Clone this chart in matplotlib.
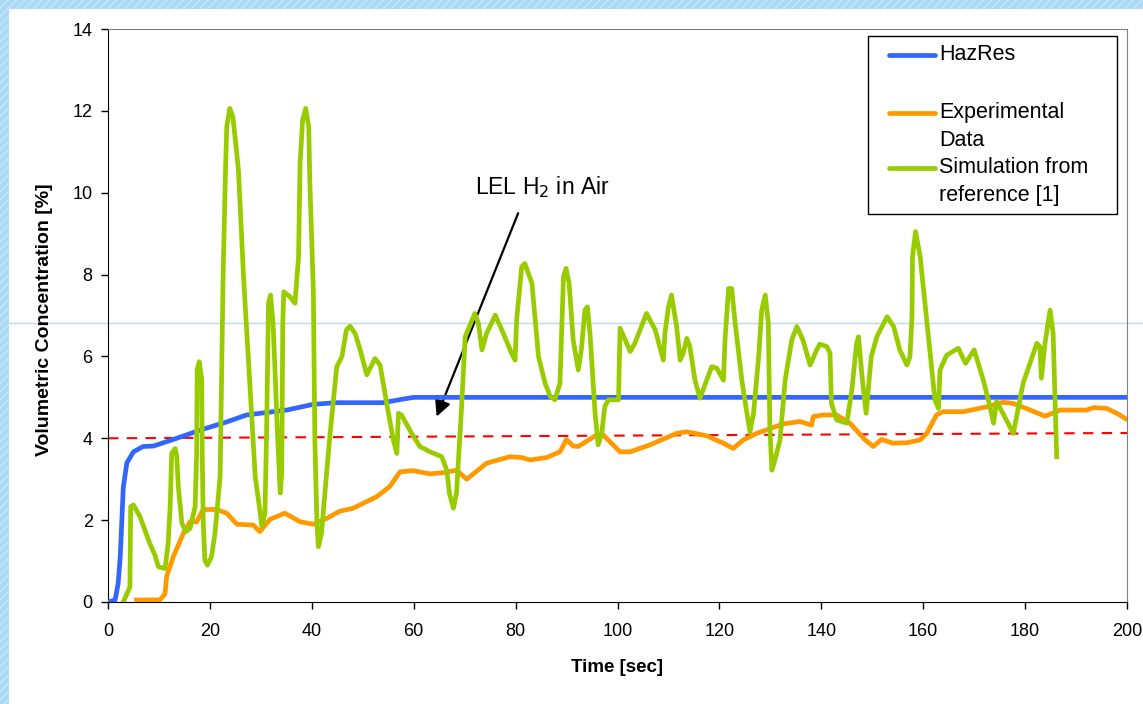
import matplotlib
matplotlib.use("Agg")
import matplotlib.pyplot as plt
from matplotlib.patches import Rectangle
from matplotlib.lines import Line2D

plt.rcParams['font.family'] = ['Liberation Sans', 'DejaVu Sans']

# ---- data ----
hazres_t = [0, 1.4, 2.0, 2.4, 3.0, 3.7, 5.0, 6.9, 8.9, 13.5, 18.1, 23.3, 27.2,
            35.1, 40.3, 44.8, 54.0, 58.0, 60, 200]
hazres_v = [0, 0.05, 0.46, 1.1, 2.8, 3.4, 3.67, 3.8, 3.81, 4.0, 4.2, 4.4, 4.57,
            4.69, 4.83, 4.87, 4.87, 4.96, 5.0, 5.0]

exp_t = [5.6, 10.2, 11.2, 11.5, 12.8, 14.8, 16.1, 17.4, 18.7, 21.3, 23.3, 25.3,
         28.5, 29.8, 31.8, 34.7, 37.7, 40.3, 42.9, 45.5, 48.1, 52.7, 55.3, 57.3,
         59.9, 63.2, 65.8, 68.4, 70.4, 74.3, 78.9, 81.2, 82.8, 86.1, 88.7, 90.0,
         91.3, 92.3, 95.9, 97.2, 100.5, 102.5, 106.4, 111.6, 113.6, 117.5, 120.8,
         122.7, 124.7, 127.3, 132.5, 135.8, 138.1, 138.4, 140.4, 143.0, 145.6,
         148.6, 150.2, 151.8, 154.1, 156.8, 159.4, 160.7, 162.6, 163.9, 167.9,
         172.5, 175.7, 177.7, 181.0, 183.9, 186.9, 192.1, 193.4, 196.0, 198.0, 200]
exp_v = [0.05, 0.05, 0.2, 0.62, 1.1, 1.68, 1.96, 1.96, 2.26, 2.26, 2.17, 1.9,
         1.88, 1.72, 2.02, 2.17, 1.96, 1.9, 2.04, 2.22, 2.29, 2.57, 2.82, 3.18,
         3.21, 3.13, 3.16, 3.22, 3.0, 3.39, 3.55, 3.53, 3.47, 3.53, 3.67, 3.97,
         3.81, 3.8, 4.08, 4.08, 3.67, 3.67, 3.84, 4.12, 4.16, 4.06, 3.88,
         3.75, 3.96, 4.12, 4.35, 4.41, 4.32, 4.53, 4.57, 4.57, 4.37,
         3.96, 3.8, 3.97, 3.88, 3.89, 3.96, 4.12, 4.57, 4.65, 4.65,
         4.77, 4.88, 4.85, 4.69, 4.54, 4.69, 4.69, 4.75, 4.73, 4.61, 4.46]

sim_t = [3.0, 4.3, 4.45, 5.0, 6.3, 8.2, 9.2, 9.9, 11.2, 11.8, 12.2, 12.5, 13.2,
         13.5, 13.8, 14.5, 15.3, 16.1, 17.1, 17.4, 17.5, 17.9, 18.4, 18.5, 18.7,
         19.0, 19.5, 20.3, 21.0, 22.0, 22.6, 23.0, 23.3, 23.9, 24.5, 25.0, 25.6,
         26.6, 27.9, 28.9, 29.8, 30.2, 30.8, 31.1, 31.5, 31.9, 32.4, 32.8, 33.2,
         33.8, 34.1, 34.3, 34.5, 35.7, 36.7, 37.4, 37.7, 38.2, 38.8, 39.4, 39.6,
         40.3, 40.6, 41.0, 41.3, 41.9, 42.9, 43.6, 44.9, 45.9, 46.8, 47.5, 48.5,
         49.5, 50.8, 52.4, 53.4, 54.7, 56.0, 56.7, 57.0, 57.6, 59.6, 61.2, 63.2,
         65.5, 66.5, 67.0, 67.8, 68.4, 69.4, 70.1, 72.0, 72.7, 73.4, 74.3, 76.0,
         77.6, 79.2, 79.9, 80.2, 81.2, 81.8, 83.2, 84.5, 85.8, 86.8, 87.7, 88.7,
         89.4, 89.9, 90.5, 91.3, 92.3, 92.9, 93.6, 94.1, 94.6, 95.6, 96.2, 96.9,
         97.5, 98.2, 100.2, 100.5, 102.5, 103.4, 105.7, 107.4, 109.0, 109.3,
         110.0, 110.6, 111.6, 112.3, 112.9, 113.6, 114.2, 115.2, 116.2, 117.5,
         118.5, 119.5, 120.8, 121.1, 121.8, 122.4, 123.1, 124.4, 125.4, 126.0,
         126.7, 127.7, 128.3, 129.0, 129.6, 129.9, 130.3, 130.9, 131.9, 132.9,
         134.2, 135.2, 136.4, 137.8, 139.1, 139.7, 141.1, 141.7, 142.0, 143.0,
         145.0, 146.0, 146.9, 147.3, 148.0, 148.8, 149.8, 150.9, 152.9, 154.2,
         155.4, 156.8, 157.4, 157.8, 157.9, 158.5, 159.4, 161.3, 162.3, 163.0,
         163.3, 164.6, 166.9, 168.3, 170.0, 170.9, 171.8, 173.1, 173.8, 174.4,
         177.7, 179.6, 182.3, 182.9, 183.2, 183.9, 184.9, 185.5, 186.2]
sim_v = [0, 0.37, 2.33, 2.37, 2.08, 1.43, 1.15, 0.86, 0.82, 1.43, 2.33, 3.63, 3.75,
         3.55, 2.82, 1.92, 1.72, 1.8, 2.33, 3.63, 5.67, 5.87, 5.42, 3.55, 1.92,
         1.03, 0.9, 1.1, 1.68, 3.06, 8.03, 10.23, 11.61, 12.06, 11.86, 11.29, 10.55,
         7.95, 5.18, 3.06, 2.25, 1.84, 2.17, 3.96, 7.3, 7.5, 6.81, 5.59, 4.28,
         2.66, 3.14, 6.81, 7.58, 7.46, 7.3, 8.44, 10.72, 11.78, 12.06, 11.61, 10.31,
         7.62, 3.96, 1.92, 1.35, 1.68, 3.14, 4.12, 5.75, 5.99, 6.65, 6.74, 6.56,
         6.16, 5.55, 5.95, 5.79, 4.85, 3.96, 3.63, 4.61, 4.57, 4.12, 3.8, 3.67,
         3.55, 3.22, 2.66, 2.29, 2.66, 4.77, 6.48, 7.05, 6.81, 6.16, 6.56, 7.01,
         6.56, 6.08, 5.91, 6.89, 8.19, 8.27, 7.79, 5.99, 5.34, 5.02, 4.94, 5.34,
         7.95, 8.15, 7.79, 6.4, 5.67, 6.16, 7.13, 7.21, 6.56, 4.61, 3.84, 4.12,
         4.77, 4.94, 4.94, 6.69, 6.12, 6.32, 7.05, 6.65, 5.91, 6.56,
         7.21, 7.5, 6.73, 5.91, 6.08, 6.44, 6.24, 5.42, 4.98, 5.42,
         5.75, 5.71, 5.42, 6.4, 7.66, 7.66, 6.81, 5.42, 4.61, 4.16,
         4.61, 5.99, 7.13, 7.5, 6.81, 4.28, 3.22, 3.47, 3.96, 5.42,
         6.4, 6.73, 6.4, 5.79, 6.16, 6.3, 6.24, 6.08, 4.85, 4.45,
         4.37, 5.18, 6.3, 6.48, 5.5, 4.61, 5.99, 6.48, 6.97, 6.73,
         6.16, 5.79, 5.99, 6.97, 8.44, 9.05, 8.44, 6.16, 4.94, 4.73,
         5.67, 6.03, 6.2, 5.83, 6.16, 5.79, 5.42, 4.77, 4.37, 4.9,
         4.12, 5.34, 6.32, 6.24, 5.47, 6.32, 7.13, 6.56, 3.55]

lel_t = [0, 200]
lel_v = [4.0, 4.13]

labels = ["HazRes", "Experimental\nData", "Simulation from\nreference [1]"]
colors = ["#3366ff", "#ff9900", "#99cc00"]

# ---- figure ----
fig = plt.figure(figsize=(11.43, 7.04), dpi=100)
fig.patch.set_facecolor("#a9d9f5")
fig.add_artist(Rectangle((0, 0), 1, 1, transform=fig.transFigure, facecolor="none",
                         edgecolor="#c6e7fa", hatch="////", lw=0, zorder=0))
fig.add_artist(Rectangle((9 / 1143, 0), 1, 1 - 9 / 704, transform=fig.transFigure,
                         facecolor="white", edgecolor="none", zorder=0.5))
# thin stray line across the slide
fig.add_artist(Line2D([9 / 1143, 1], [1 - 323 / 704] * 2, transform=fig.transFigure,
                      color="#b9dcea", lw=1, zorder=0.6))

ax = fig.add_axes([108 / 1143, 1 - 602 / 704, 1019 / 1143, 573 / 704])
ax.set_facecolor("none")
ax.set_zorder(1)

ax.plot(lel_t, lel_v, color="#ff0000", lw=1.5, ls=(0, (5, 4)), zorder=2)
ax.plot(exp_t, exp_v, color=colors[1], lw=3.4, solid_joinstyle="round", zorder=3)
ax.plot(hazres_t, hazres_v, color=colors[0], lw=3.4, solid_joinstyle="round", zorder=4)
ax.plot(sim_t, sim_v, color=colors[2], lw=3.4, solid_joinstyle="round", zorder=5)

ax.set_xlim(0, 200)
ax.set_ylim(0, 14)
ax.set_xticks(range(0, 201, 20))
ax.set_yticks(range(0, 15, 2))
ax.tick_params(direction="out", length=5, width=1, labelsize=13)
ax.tick_params(axis="x", pad=10)
ax.tick_params(axis="y", pad=6)

for s in ["top", "right"]:
    ax.spines[s].set_color("#808080")
for s in ["left", "bottom"]:
    ax.spines[s].set_color("black")

fig.text(45 / 1143, 1 - 320 / 704, "Volumetric Concentration [%]", rotation=90,
         ha="center", va="center", fontsize=14, fontweight="bold")
fig.text(617 / 1143, 1 - 668 / 704, "Time [sec]", ha="center", va="center",
         fontsize=13.5, fontweight="bold")

# annotation
ax.annotate("", xy=(64.5, 4.53), xytext=(80.5, 9.5),
            arrowprops=dict(arrowstyle="-|>", color="black", lw=1.6,
                            mutation_scale=24, shrinkA=0, shrinkB=0))
ax.text(85.2, 10.15, "LEL H$_2$ in Air", ha="center", va="center", fontsize=16.5)

# legend drawn by hand to match the layout
ax.add_patch(Rectangle((0.746, 0.677), 0.244, 0.311, transform=ax.transAxes,
                       facecolor="white", edgecolor="black", lw=1, zorder=6))
rows = [0.955, 0.854, 0.758]
for lab, col, y in zip(labels, colors, rows):
    ax.add_line(Line2D([0.766, 0.812], [y, y], transform=ax.transAxes, color=col,
                       lw=3.4, solid_capstyle="round", zorder=7))
    for i, part in enumerate(lab.split("\n")):
        ax.text(0.8155, y - i * 0.049, part, transform=ax.transAxes, ha="left",
                va="center", fontsize=15.5, zorder=7)

fig.savefig("out.png", dpi=100)
